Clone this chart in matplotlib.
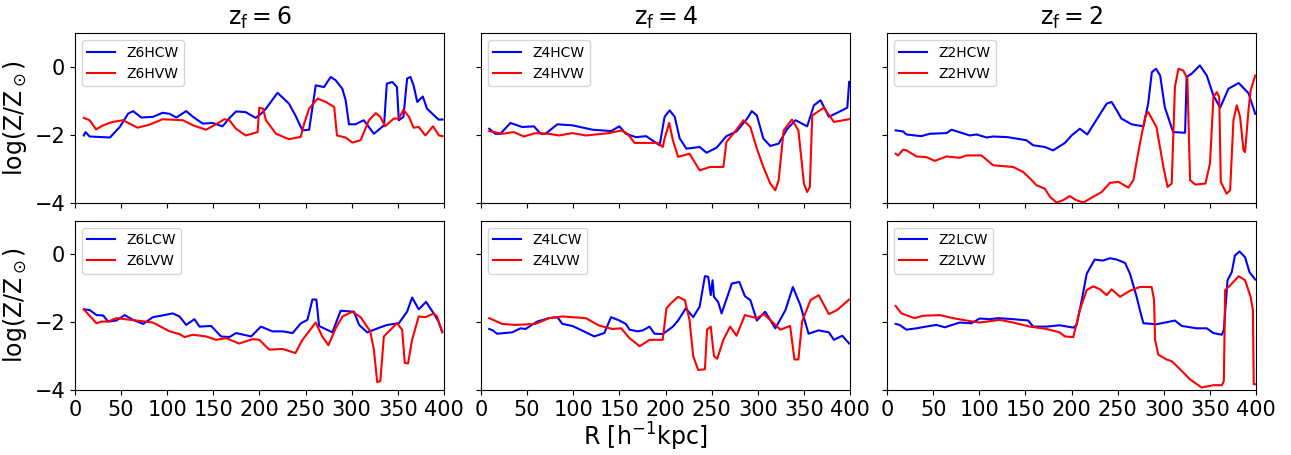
import numpy as np
import matplotlib.pyplot as plt

# ---- data (R in h^-1 kpc, log Z/Zsun) ----
z6hcw_r = [9.7, 11.5, 16, 38, 48.6, 57.6, 63, 72, 84.6, 95, 102.6, 110, 120.6, 128, 138.6, 149, 160, 167,
           174.6, 185, 196, 201.6, 207, 219.6, 232, 239, 246.6, 253.8, 261, 270, 277.2, 282.6, 289.8, 293.4,
           297, 304, 313, 324, 335, 338, 344, 349, 351, 356, 360, 363.6, 367, 371, 377, 381.6, 394, 398.5]
z6hcw_z = [-2.02, -1.92, -2.05, -2.08, -1.77, -1.38, -1.30, -1.49, -1.47, -1.35, -1.38, -1.49, -1.30, -1.47,
           -1.67, -1.65, -1.75, -1.52, -1.31, -1.33, -1.50, -1.38, -1.23, -0.76, -1.08, -1.43, -1.87, -1.85,
           -0.54, -0.59, -0.29, -0.39, -0.64, -0.98, -1.69, -1.69, -1.57, -1.97, -1.72, -0.49, -0.44, -0.59,
           -1.57, -1.47, -0.34, -0.29, -0.54, -1.03, -0.87, -1.23, -1.55, -1.55]
z6hvw_r = [9.7, 16, 23, 30.6, 41, 52, 68, 81, 95, 117, 128, 142, 153, 162, 167.4, 174.6, 185, 198, 199.8,
           204, 207, 218, 232, 244.8, 248.4, 253.8, 263, 272, 281, 284, 293.4, 300.6, 309.6, 318.6, 326, 331,
           336, 345.6, 351, 356, 362, 367, 372.6, 379.8, 388, 394.6, 398.5]
z6hvw_z = [-1.50, -1.57, -1.84, -1.72, -1.62, -1.57, -1.79, -1.70, -1.54, -1.57, -1.72, -1.85, -1.69, -1.54,
           -1.57, -1.82, -2.02, -1.92, -1.20, -1.23, -1.57, -1.97, -2.13, -2.06, -1.67, -1.23, -0.93, -1.03,
           -1.18, -2.02, -2.08, -2.23, -2.16, -1.57, -1.36, -1.47, -1.75, -1.52, -1.52, -1.26, -1.47, -1.79,
           -1.77, -2.02, -1.75, -2.02, -2.04]

z4hcw_r = [9, 15.6, 21, 32, 44.7, 57.4, 64.7, 70, 82.8, 99, 121, 141, 150, 157, 168, 179, 193.6, 199, 204.5,
           210, 215.4, 222.7, 237, 244.5, 255.4, 266, 277, 288, 293.5, 299, 306, 313.5, 322.6, 332, 341, 353.5,
           360.8, 368, 377, 386, 397, 399]
z4hcw_z = [-1.82, -1.97, -1.97, -1.65, -1.77, -1.75, -1.97, -1.97, -1.69, -1.72, -1.85, -1.89, -1.75, -1.97,
           -2.07, -2.04, -2.31, -1.47, -1.28, -1.47, -2.11, -2.41, -2.36, -2.53, -2.38, -2.04, -1.90, -1.54,
           -1.30, -1.43, -2.11, -2.33, -2.26, -1.82, -1.57, -1.75, -1.13, -0.98, -1.47, -1.35, -1.20, -0.44]
z4hvw_r = [9, 23, 35.6, 46.5, 59, 73.7, 84.6, 99, 113.7, 139, 152, 159, 166.4, 191.8, 197, 199, 204, 208,
           213.6, 226, 237, 248, 262.7, 266, 275, 284.5, 292, 299, 306, 313.5, 319, 322.6, 328, 337, 344, 350,
           353.5, 356.4, 359, 371.5, 382.5, 399]
z4hvw_z = [-1.89, -1.97, -1.92, -2.05, -1.95, -1.97, -2.02, -1.95, -2.02, -1.95, -1.87, -1.97, -2.24, -2.24,
           -2.36, -2.11, -1.65, -2.16, -2.65, -2.56, -3.05, -2.95, -2.95, -2.21, -1.92, -1.57, -1.77, -2.41,
           -2.95, -3.44, -3.64, -3.34, -1.87, -1.55, -1.87, -3.44, -3.69, -3.54, -1.43, -1.20, -1.62, -1.54]

z2hcw_r = [9.4, 17.4, 21, 37, 46.3, 64.4, 70, 89.7, 97, 108, 115, 131, 144, 151, 158.4, 171, 180, 192.8,
           200, 209, 217, 229, 238, 243.4, 249, 254, 265, 278, 283, 287, 291.5, 296, 301, 310, 323, 324.7,
           330, 339, 346.5, 353.7, 361, 370, 381, 391.7, 399]
z2hcw_z = [-1.87, -1.90, -1.99, -2.04, -1.97, -1.95, -1.85, -2.02, -1.99, -2.08, -2.05, -2.07, -2.13, -2.16,
           -2.31, -2.36, -2.46, -2.24, -2.02, -1.82, -1.99, -1.47, -1.08, -1.03, -1.28, -1.52, -1.69, -1.75,
           -1.08, -0.15, -0.05, -0.25, -1.18, -1.92, -1.94, -0.29, -0.20, 0.05, -0.25, -0.84, -1.20, -0.64,
           -0.47, -0.77, -1.38]
z2hvw_r = [9.4, 12, 17.4, 21, 32, 42.7, 51.7, 64.4, 79, 86, 102.4, 115, 136.7, 147.6, 155, 162, 171, 176.5,
           183.7, 191, 198, 205, 212.7, 223.5, 232.6, 241.6, 250.7, 261.5, 267, 272, 280, 283, 292, 299.5, 304,
           308.5, 312, 315.8, 321, 325.5, 328.4, 334, 345, 350, 353.7, 357.4, 360, 361.7, 368, 371.8, 375.4,
           379, 382.6, 386.3, 388, 391.7, 394, 399]
z2hvw_z = [-2.56, -2.61, -2.44, -2.46, -2.64, -2.66, -2.77, -2.64, -2.68, -2.61, -2.61, -2.90, -2.95, -3.10,
           -3.29, -3.49, -3.59, -3.83, -4.00, -3.93, -3.81, -3.93, -4.00, -3.83, -3.69, -3.42, -3.39, -3.56,
           -3.34, -2.56, -1.43, -1.33, -1.77, -2.95, -3.54, -3.44, -0.59, -0.05, -0.10, -0.34, -3.34, -3.47,
           -3.44, -2.85, -0.88, -0.74, -0.88, -3.39, -3.74, -3.64, -1.57, -1.13, -1.47, -2.46, -2.51, -1.28,
           -0.69, -0.25]

z6lcw_r = [9.7, 16, 23.4, 30.6, 36, 45, 54, 63, 74, 84.6, 95, 106, 113.4, 120.6, 129.6, 135, 147.6, 158.4,
           167.4, 174.6, 191, 201.6, 214, 225, 236, 245, 252, 257.4, 261.7, 264.6, 279, 288, 302.4, 308, 316.8,
           331, 338.4, 351, 360, 365.4, 372.6, 380.5, 388.8, 394, 398]
z6lcw_z = [-1.62, -1.64, -1.79, -1.80, -1.98, -1.95, -1.79, -1.93, -2.05, -1.85, -1.80, -1.74, -1.83, -2.08,
           -1.91, -2.13, -2.11, -2.42, -2.44, -2.32, -2.42, -2.13, -2.27, -2.27, -2.32, -2.03, -1.93, -1.33,
           -1.33, -2.11, -2.30, -1.66, -1.69, -2.08, -2.30, -2.15, -2.08, -2.03, -1.69, -1.27, -1.62, -1.40,
           -1.74, -1.98, -2.27]
z6lvw_r = [9.7, 16, 23.4, 28.8, 36, 45, 66.6, 84.6, 102.6, 113.4, 118.8, 127.8, 142, 153, 163.8, 178, 192.6,
           199.8, 210.6, 225, 239, 246.6, 261, 268, 274.7, 282.6, 290, 300.6, 309.6, 320, 324, 327.6, 331,
           334.8, 349, 354.6, 357.5, 361, 365.4, 372.6, 380, 388.8, 392.4, 398]
z6lvw_z = [-1.62, -1.81, -2.03, -1.98, -1.98, -1.88, -1.95, -2.01, -2.27, -2.35, -2.44, -2.37, -2.42, -2.52,
           -2.47, -2.63, -2.50, -2.52, -2.81, -2.79, -2.91, -2.52, -2.01, -2.42, -2.68, -2.18, -1.83, -1.69,
           -1.85, -2.27, -2.81, -3.77, -3.74, -2.42, -2.03, -2.22, -3.20, -3.22, -2.52, -1.83, -1.85, -1.74,
           -1.83, -2.30]

z4lcw_r = [9, 12.7, 17.4, 33.8, 42.9, 48.3, 61, 73.8, 82.8, 88.3, 99, 110, 122.8, 133.7, 141, 150, 157, 161,
           170, 175.5, 182.7, 188, 197, 208, 213.6, 222, 230, 237, 242.7, 246.3, 249, 251, 252.5, 257, 260.8,
           271.8, 280, 286, 292, 299, 308, 319, 330, 338, 346, 355, 366, 377, 382.5, 391.6, 399]
z4lcw_z = [-2.20, -2.24, -2.34, -2.30, -2.18, -2.20, -1.98, -1.88, -1.85, -2.05, -2.11, -2.25, -2.42, -2.32,
           -1.85, -1.95, -2.05, -2.22, -2.27, -2.24, -2.13, -2.34, -2.35, -2.13, -1.95, -1.59, -1.85, -1.54,
           -0.64, -0.66, -1.20, -0.76, -1.25, -1.40, -1.74, -0.86, -0.81, -1.23, -1.35, -1.95, -1.69, -2.18,
           -1.64, -0.96, -1.49, -2.34, -2.24, -2.30, -2.52, -2.40, -2.63]
z4lvw_r = [9, 23, 37.4, 59, 73.8, 88.3, 113.7, 128, 142.8, 151.9, 161, 172, 182.7, 197, 201, 206, 213.6, 221,
           226, 230, 235.4, 242.7, 245, 249, 252.5, 256, 262.7, 270, 277, 286, 299, 306, 313.5, 324.4, 335,
           339.7, 344, 348, 357, 366, 377, 386, 399]
z4lvw_z = [-1.88, -2.05, -2.08, -2.05, -1.88, -1.83, -1.88, -2.10, -2.20, -2.18, -2.47, -2.71, -2.52, -2.52,
           -1.59, -1.44, -1.25, -1.35, -1.93, -3.00, -3.41, -3.39, -2.22, -2.13, -3.00, -3.08, -2.52, -2.13,
           -2.40, -1.79, -1.88, -1.76, -1.93, -2.22, -2.11, -3.10, -3.10, -1.98, -1.35, -1.20, -1.76, -1.64,
           -1.33]

z2lcw_r = [9.4, 13.7, 21, 32, 46.3, 53.5, 62.6, 78.8, 91.5, 100.5, 111.4, 120.4, 136.7, 153, 158.4, 173, 187,
           201.8, 205.5, 211, 216.4, 225, 234, 241.6, 249, 258, 263.3, 270.5, 274, 277.8, 292, 306.7, 312,
           319.4, 335.6, 346.5, 353.7, 362.8, 365, 369, 373.6, 377, 382, 388, 392.8, 399]
z2lcw_z = [-2.05, -2.08, -2.22, -2.18, -2.11, -2.08, -2.15, -2.01, -2.03, -1.89, -1.91, -1.88, -1.91, -1.95,
           -2.13, -2.13, -2.09, -2.16, -2.08, -1.35, -0.57, -0.15, -0.18, -0.11, -0.15, -0.25, -0.57, -1.25,
           -1.64, -2.03, -2.06, -1.98, -1.95, -2.11, -2.18, -2.18, -2.32, -2.37, -2.22, -0.76, -0.52, -0.03,
           0.09, -0.08, -0.52, -0.74]
z2lvw_r = [9.4, 15.6, 30, 39, 57, 71.6, 86, 100.5, 122, 136.7, 154.8, 173, 187, 192.8, 201.8, 209, 216.4,
           223.5, 231, 238, 243.4, 252.5, 263.3, 274, 286.8, 289.4, 290.5, 294, 303, 308.5, 317.6, 328.4, 341,
           353.7, 362.8, 365, 366.4, 372, 381, 388, 394, 396.5, 397.4, 400]
z2lvw_z = [-1.52, -1.74, -1.88, -1.81, -1.79, -1.88, -1.95, -2.01, -1.93, -2.01, -2.13, -2.20, -2.30, -2.42,
           -2.44, -1.64, -1.05, -0.94, -1.03, -1.20, -1.03, -1.25, -1.07, -0.96, -0.96, -1.35, -2.52, -2.96,
           -3.10, -3.15, -3.39, -3.69, -3.93, -3.86, -3.86, -3.74, -1.05, -0.91, -0.64, -0.76, -1.25, -1.64,
           -3.83, -3.83]

titles = [r'$\mathrm{z_f = 6}$', r'$\mathrm{z_f = 4}$', r'$\mathrm{z_f = 2}$']

panels = [
    [('Z6HCW', z6hcw_r, z6hcw_z), ('Z6HVW', z6hvw_r, z6hvw_z)],
    [('Z4HCW', z4hcw_r, z4hcw_z), ('Z4HVW', z4hvw_r, z4hvw_z)],
    [('Z2HCW', z2hcw_r, z2hcw_z), ('Z2HVW', z2hvw_r, z2hvw_z)],
    [('Z6LCW', z6lcw_r, z6lcw_z), ('Z6LVW', z6lvw_r, z6lvw_z)],
    [('Z4LCW', z4lcw_r, z4lcw_z), ('Z4LVW', z4lvw_r, z4lvw_z)],
    [('Z2LCW', z2lcw_r, z2lcw_z), ('Z2LVW', z2lvw_r, z2lvw_z)],
]

fig, axes = plt.subplots(2, 3, figsize=(12.91, 4.55), dpi=100, sharex=True, sharey=True)
fig.subplots_adjust(left=0.058, right=0.973, top=0.927, bottom=0.143, wspace=0.10, hspace=0.107)

for i, ax in enumerate(axes.flat):
    (lab_c, rc, zc), (lab_v, rv, zv) = panels[i]
    ax.plot(rc, zc, color='blue', lw=1.5, label=lab_c)
    ax.plot(rv, zv, color='red', lw=1.5, label=lab_v)
    ax.legend(loc='upper left', fontsize=10)
    ax.tick_params(labelsize=15)

ax0 = axes[0, 0]
ax0.set_xlim(0, 400)
ax0.set_ylim(-4, 1)
ax0.set_yticks([-4, -2, 0])
ax0.set_xticks(np.arange(0, 401, 50))

for j in range(3):
    axes[0, j].set_title(titles[j], fontsize=17)
for i in range(2):
    axes[i, 0].set_ylabel(r'$\mathrm{log(Z/Z_\odot)}$', fontsize=17)

fig.text(0.5, 0.02, r'R [$\mathrm{h^{-1}}$kpc]', ha='center', fontsize=17)

fig.savefig('out.png')
